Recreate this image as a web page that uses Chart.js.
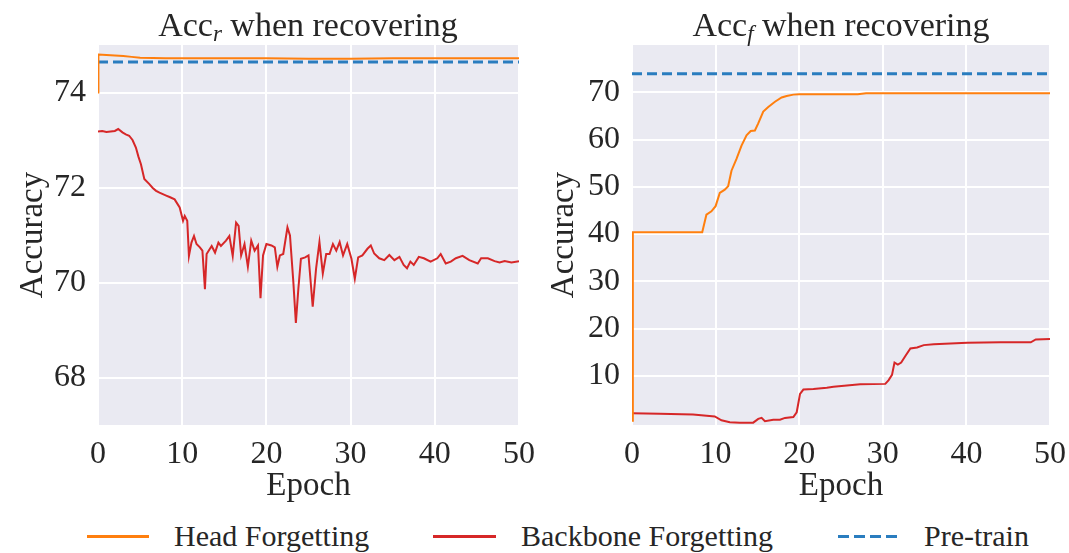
<!DOCTYPE html>
<html>
<head>
<meta charset="utf-8">
<script src="https://cdn.jsdelivr.net/npm/chart.js@4.4.0/dist/chart.umd.min.js"></script>
<style>
  html, body { margin: 0; padding: 0; background: #fff; }
  #page { position: relative; width: 1069px; height: 553px; overflow: hidden;
          font-family: 'Liberation Serif', 'DejaVu Serif', serif; color: #262626; }
  canvas { position: absolute; top: 0; }
  .title { position: absolute; top: 8px; width: 500px; text-align: center;
           font-size: 34px; line-height: 34px; white-space: nowrap; }
  .title sub { font-size: 23px; vertical-align: -5px; line-height: 0; }
  .legend-text { position: absolute; top: 521px; font-size: 30px; line-height: 30px; white-space: nowrap; }
  .legend-line { position: absolute; top: 535px; height: 3px; }
</style>
</head>
<body>
<div id="page">
  <canvas id="left-chart" width="545" height="510" style="left:0"></canvas>
  <canvas id="right-chart" width="546" height="510" style="left:530px"></canvas>
  <div class="title" style="left:58px">Acc<sub><i>r</i></sub> when recovering</div>
  <div class="title" style="left:591px">Acc<sub><i>f</i></sub> when recovering</div>

  <div class="legend-line" style="left:87px;width:62px;background:#ff7f0e"></div>
  <div class="legend-text" style="left:174px">Head Forgetting</div>
  <div class="legend-line" style="left:433px;width:63px;background:#d62728"></div>
  <div class="legend-text" style="left:521px">Backbone Forgetting</div>
  <div class="legend-line" style="left:838px;width:60px;background:repeating-linear-gradient(90deg,#2a7dbf 0 11px,transparent 11px 16px)"></div>
  <div class="legend-text" style="left:924px">Pre-train</div>
</div>

<script>
// 刻度
const epochTicks = [0, 10, 20, 30, 40, 50];
const leftAccTicks = [68, 70, 72, 74];
const rightAccTicks = [10, 20, 30, 40, 50, 60, 70];

// 左图: Acc_r
const leftHeadEpochs = [0, 0.05, 1, 2, 3, 4, 5, 8, 12, 16, 20, 25, 30, 35, 40, 45, 50];
const leftHeadAcc = [74.0, 74.80, 74.79, 74.78, 74.77, 74.75, 74.73, 74.72, 74.72, 74.72, 74.72, 74.71, 74.71, 74.72, 74.72, 74.72, 74.72];

const leftBackboneEpochs = [
  0, 0.5, 1.0, 1.5, 2.0, 2.4, 2.9, 3.3, 3.7, 4.1, 4.5, 4.8, 5.1, 5.5, 6.1, 6.5, 6.9, 7.3, 7.7, 8.1,
  8.5, 9.1, 9.7, 10.1, 10.3, 10.6, 10.8, 11.1, 11.4, 11.7, 12.1, 12.4, 12.7, 12.9, 13.5, 13.9, 14.3, 14.6, 15.2, 15.6,
  16.0, 16.4, 16.7, 17.0, 17.4, 17.8, 18.2, 18.6, 19.0, 19.3, 19.6, 20.0, 20.6, 21.0, 21.3, 21.6, 22.0, 22.5, 22.8, 23.2,
  23.5, 23.8, 24.1, 24.6, 25.0, 25.5, 25.9, 26.3, 26.7, 27.1, 27.5, 27.9, 28.3, 28.7, 29.1, 29.6, 30.1, 30.5, 30.9, 31.4,
  32.0, 32.4, 32.8, 33.4, 34.0, 34.6, 35.2, 35.8, 36.3, 36.7, 37.1, 37.5, 38.1, 38.7, 39.5, 40.3, 40.7, 41.3, 41.9, 42.5,
  43.3, 44.1, 45.1, 45.5, 46.3, 47.1, 47.7, 48.3, 49.1, 50.0
];
const leftBackboneAcc = [
  73.18, 73.19, 73.17, 73.18, 73.19, 73.23, 73.16, 73.12, 73.09, 73.00, 72.84, 72.65, 72.49, 72.18, 72.07, 71.99, 71.93, 71.89, 71.86, 71.83,
  71.80, 71.75, 71.58, 71.30, 71.40, 71.30, 70.56, 70.84, 70.98, 70.81, 70.74, 70.67, 69.86, 70.60, 70.77, 70.63, 70.84, 70.77, 70.88, 70.98,
  70.56, 71.26, 71.19, 70.57, 70.81, 70.33, 70.88, 70.67, 70.78, 69.67, 70.57, 70.81, 70.78, 70.74, 70.33, 70.57, 70.60, 71.16, 70.99, 70.01,
  69.15, 69.88, 70.50, 70.53, 70.57, 69.49, 70.29, 70.85, 70.19, 70.60, 70.60, 70.81, 70.67, 70.85, 70.57, 70.81, 70.50, 70.08, 70.53, 70.57,
  70.71, 70.78, 70.61, 70.51, 70.47, 70.58, 70.47, 70.54, 70.37, 70.30, 70.44, 70.37, 70.54, 70.51, 70.44, 70.51, 70.60, 70.40, 70.44, 70.51,
  70.56, 70.47, 70.40, 70.51, 70.51, 70.45, 70.42, 70.45, 70.42, 70.45
];

const leftPretrainEpochs = [0, 50];
const leftPretrainAcc = [74.64, 74.64];

// 右图: Acc_f
const rightHeadEpochs = [
  0, 0.1, 8.4, 8.9, 9.5, 10.0, 10.5, 11.1, 11.5, 11.9, 12.5, 13.1, 13.7, 14.2, 14.7, 15.1, 15.7, 16.3, 17.1, 17.9,
  18.5, 19.3, 20.0, 27.0, 28.0, 35.0, 50.0
];
const rightHeadAcc = [
  0.5, 40.4, 40.4, 44.1, 44.8, 45.9, 48.7, 49.4, 50.1, 53.4, 55.9, 58.7, 60.9, 61.8, 61.9, 63.4, 65.9, 66.9, 68.0, 68.9,
  69.2, 69.5, 69.6, 69.6, 69.8, 69.8, 69.8
];

const rightBackboneEpochs = [
  0, 3.3, 7.3, 9.9, 10.7, 11.7, 12.9, 14.5, 15.1, 15.5, 15.9, 16.9, 17.7, 18.3, 19.3, 19.7, 20.1, 20.5, 21.7, 23.3,
  24.1, 27.3, 30.3, 30.7, 31.1, 31.4, 31.8, 32.2, 32.7, 33.3, 34.1, 34.9, 36.1, 40.1, 44.1, 47.7, 48.3, 50.0
];
const rightBackboneAcc = [
  2.1, 2.0, 1.8, 1.4, 0.6, 0.2, 0.1, 0.1, 0.9, 1.1, 0.4, 0.7, 0.7, 1.1, 1.3, 2.3, 6.2, 7.1, 7.2, 7.5,
  7.7, 8.2, 8.3, 9.1, 10.2, 12.8, 12.4, 12.8, 14.2, 15.8, 16.0, 16.5, 16.7, 17.0, 17.1, 17.1, 17.7, 17.8
];

const rightPretrainEpochs = [0, 50];
const rightPretrainAcc = [73.9, 73.9];

const HEAD_COLOR = '#ff7f0e';
const BACKBONE_COLOR = '#d62728';
const PRETRAIN_COLOR = '#2a7dbf';

Chart.defaults.font.family = "'Liberation Serif', 'DejaVu Serif', serif";
Chart.defaults.color = '#262626';

// 灰色绘图区背景
const plotBackground = {
    id: 'plotBackground',
    beforeDraw(chart) {
        const { ctx, chartArea: a } = chart;
        ctx.save();
        ctx.fillStyle = '#eaeaf2';
        ctx.fillRect(a.left, a.top, a.width, a.height);
        ctx.restore();
    }
};

function toPoints(xs, ys) {
    return xs.map((x, i) => ({ x: x, y: ys[i] }));
}

function lineDataset(xs, ys, color, dashed) {
    return {
        data: toPoints(xs, ys),
        borderColor: color,
        borderWidth: dashed ? 3 : 2,
        borderDash: dashed ? [10, 5] : [],
        pointRadius: 0,
        tension: 0,
        fill: false
    };
}

function renderPanel(id, datasets, yMin, yMax, yTicks, yWidth, titlePad) {
    const ctx = document.getElementById(id).getContext('2d');
    return new Chart(ctx, {
        type: 'line',
        data: { datasets: datasets },
        options: {
            responsive: false,
            animation: false,
            devicePixelRatio: 1,
            layout: { padding: { top: 45, right: 20, bottom: 0, left: 0 } },
            plugins: { legend: { display: false }, tooltip: { enabled: false } },
            scales: {
                x: {
                    type: 'linear',
                    min: 0,
                    max: 50,
                    afterBuildTicks: (scale) => { scale.ticks = epochTicks.map(v => ({ value: v })); },
                    afterFit: (scale) => { scale.height = 85; },
                    grid: { color: '#ffffff', lineWidth: 2, drawTicks: false },
                    border: { display: false },
                    ticks: { font: { size: 32 }, padding: 10, maxRotation: 0 },
                    title: { display: true, text: 'Epoch', font: { size: 33 }, padding: { top: 0, bottom: 4 } }
                },
                y: {
                    type: 'linear',
                    min: yMin,
                    max: yMax,
                    afterBuildTicks: (scale) => { scale.ticks = yTicks.map(v => ({ value: v })); },
                    afterFit: (scale) => { scale.width = yWidth; },
                    grid: { color: '#ffffff', lineWidth: 2, drawTicks: false },
                    border: { display: false },
                    ticks: { font: { size: 32 }, padding: 12 },
                    title: { display: true, text: 'Accuracy', font: { size: 33 }, padding: { top: titlePad, bottom: 0 } }
                }
            }
        },
        plugins: [plotBackground]
    });
}

renderPanel('left-chart', [
    lineDataset(leftHeadEpochs, leftHeadAcc, HEAD_COLOR, false),
    lineDataset(leftBackboneEpochs, leftBackboneAcc, BACKBONE_COLOR, false),
    lineDataset(leftPretrainEpochs, leftPretrainAcc, PRETRAIN_COLOR, true)
], 67.0, 75.0, leftAccTicks, 98, 14);

renderPanel('right-chart', [
    lineDataset(rightHeadEpochs, rightHeadAcc, HEAD_COLOR, false),
    lineDataset(rightBackboneEpochs, rightBackboneAcc, BACKBONE_COLOR, false),
    lineDataset(rightPretrainEpochs, rightPretrainAcc, PRETRAIN_COLOR, true)
], -0.4, 80.0, rightAccTicks, 102, 15);
</script>
</body>
</html>
